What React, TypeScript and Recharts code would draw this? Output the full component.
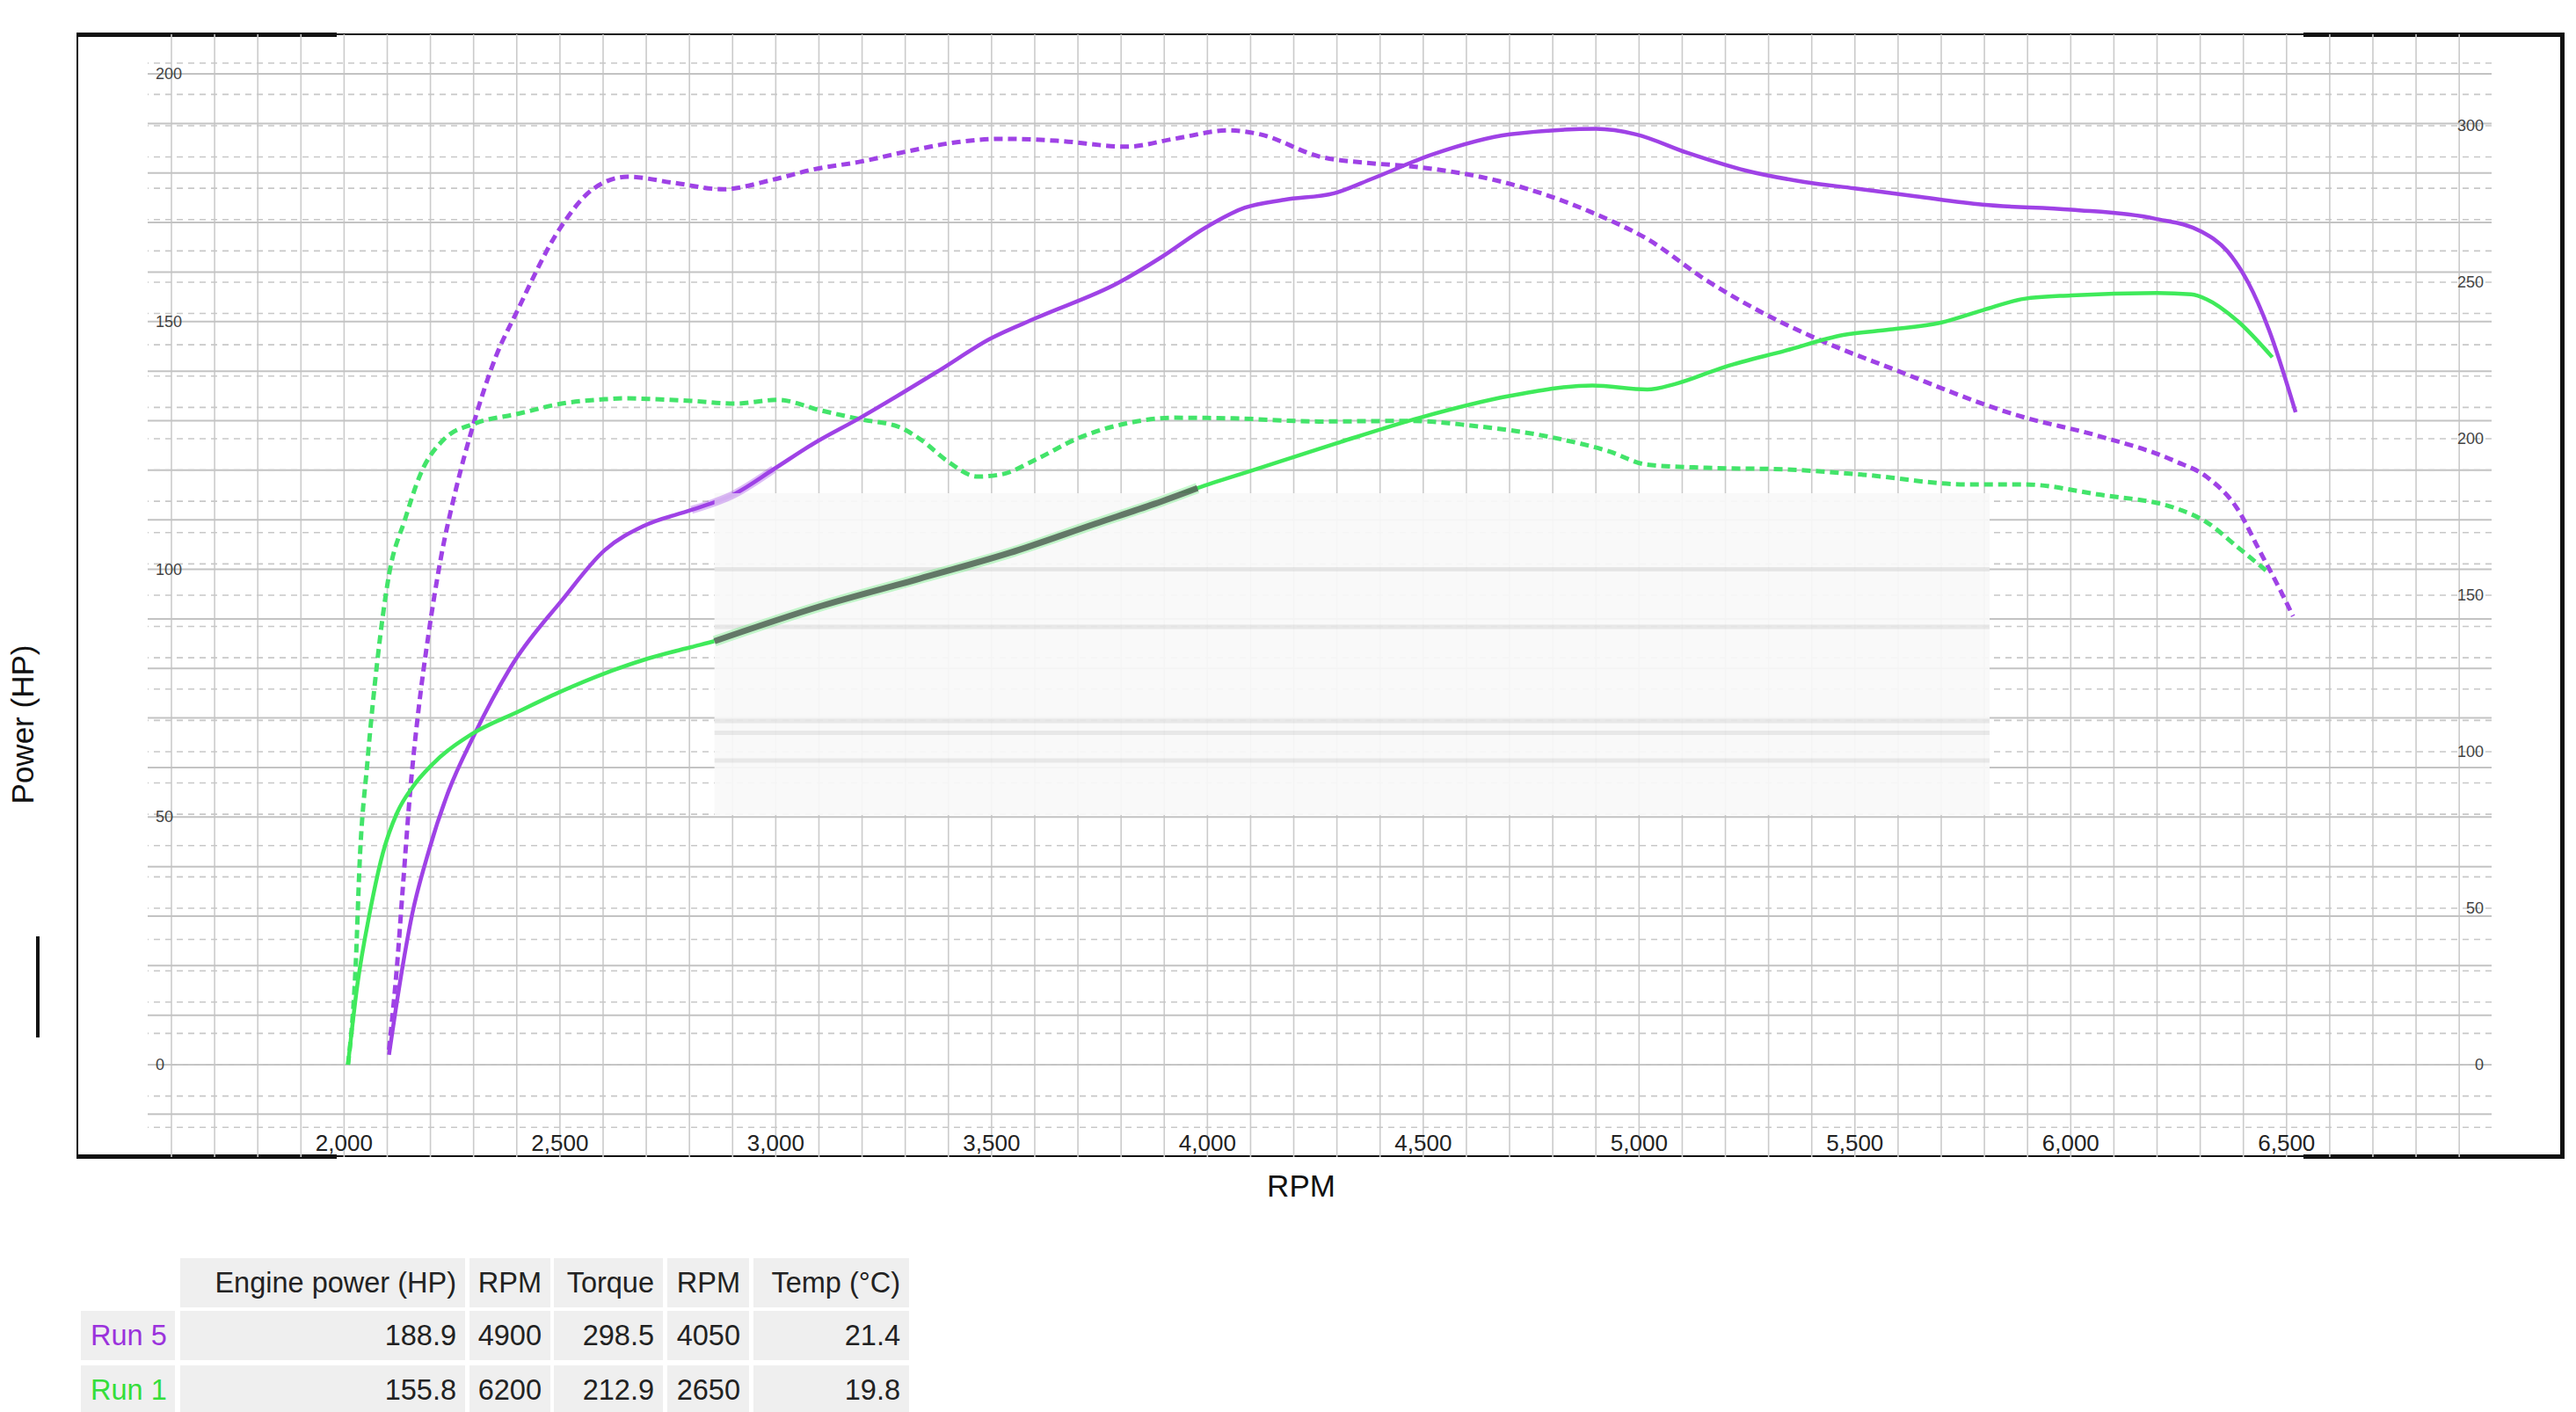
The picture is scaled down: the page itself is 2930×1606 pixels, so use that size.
import React from "react";
import {
  Line,
  LineChart,
  ReferenceArea,
  ReferenceLine,
  XAxis,
  YAxis,
} from "recharts";

// Run 5 (purple) engine power, HP
const run5PowerRpm = [
  2104, 2127, 2158, 2195, 2241, 2302, 2395, 2504, 2604, 2695, 2805, 2904, 2995,
  3086, 3196, 3378, 3496, 3605, 3795, 3895, 3996, 4087, 4178, 4293, 4383, 4520,
  4701, 4900, 4993, 5111, 5247, 5383, 5499, 5640, 5796, 6001, 6194, 6302, 6363,
  6411, 6459, 6521,
];
const run5PowerHp = [
  2.0, 15.3, 30.5, 42.8, 55.0, 66.7, 81.5, 93.7, 103.9, 108.8, 112.0, 115.2,
  120.2, 125.3, 130.6, 140.1, 146.5, 150.8, 157.9, 163.1, 169.0, 173.0, 174.6,
  175.9, 178.9, 183.7, 187.8, 188.9, 187.8, 184.1, 180.5, 178.2, 176.9, 175.3,
  173.6, 172.6, 170.8, 168.2, 164.2, 157.9, 148.4, 131.7,
];

// Run 1 (green) engine power, HP
const run1PowerRpm = [
  2009, 2031, 2059, 2090, 2123, 2159, 2204, 2295, 2404, 2504, 2604, 2704, 2804,
  2858, 3105, 3332, 3541, 3740, 3877, 3977, 4105, 4301, 4492, 4701, 4892, 5019,
  5083, 5200, 5337, 5473, 5581, 5699, 5796, 5892, 6001, 6200, 6279, 6315, 6388,
  6467,
];
const run1PowerHp = [
  0, 16.3, 30.5, 42.8, 50.9, 56.1, 60.6, 66.7, 71.3, 75.4, 79.0, 82.0, 84.3,
  85.5, 92.6, 98.1, 103.3, 109.2, 113.2, 116.4, 120.0, 125.5, 130.6, 135.0,
  137.1, 136.3, 137.4, 140.9, 144.1, 147.3, 148.4, 149.8, 152.3, 154.6, 155.3,
  155.8, 155.5, 154.5, 150.0, 142.8,
];

// Run 5 torque, Nm
const run5TorqueRpm = [
  2104, 2123, 2136, 2154, 2172, 2195, 2223, 2259, 2300, 2350, 2400, 2501, 2579,
  2657, 2761, 2878, 2995, 3086, 3196, 3305, 3423, 3523, 3650, 3813, 3923, 4050,
  4123, 4258, 4380, 4472, 4701, 4892, 5019, 5156, 5292, 5429, 5580, 5880, 6061,
  6242, 6315, 6388, 6436, 6484, 6515,
];
const run5TorqueNm = [
  4.8, 32.3, 56.5, 88.8, 112.9, 137.0, 161.0, 183.8, 204.8, 225.7, 240.5, 267.4,
  280.0, 283.7, 281.8, 279.7, 282.8, 286.0, 288.5, 291.8, 294.8, 295.8, 295.2,
  293.3, 295.8, 298.5, 297.2, 290.2, 288.0, 287.0, 281.4, 272.2, 263.8, 250.6,
  239.8, 230.9, 222.7, 207.3, 201.0, 192.8, 187.8, 177.2, 164.6, 152.0, 143.3,
];

// Run 1 torque, Nm
const run1TorqueRpm = [
  2009, 2027, 2036, 2054, 2077, 2104, 2141, 2177, 2232, 2302, 2404, 2504, 2604,
  2650, 2704, 2804, 2904, 3004, 3105, 3196, 3286, 3341, 3396, 3468, 3523, 3605,
  3696, 3813, 3923, 4059, 4258, 4473, 4610, 4792, 4929, 5019, 5156, 5337, 5518,
  5759, 5892, 6062, 6243, 6315, 6388, 6455,
];
const run1TorqueNm = [
  0, 32.3, 64.5, 96.7, 129.0, 156.5, 174.2, 188.7, 199.9, 204.8, 208.0, 211.2,
  212.6, 212.9, 212.7, 212.1, 211.2, 212.4, 209.0, 206.2, 203.7, 199.2, 193.0,
  187.9, 188.6, 193.5, 199.9, 204.9, 206.7, 206.5, 205.5, 205.7, 204.2, 200.6,
  196.0, 191.7, 190.7, 190.2, 188.5, 185.4, 185.4, 182.2, 177.8, 173.3, 165.2,
  157.6,
];

const rpmTicks = [2000, 2500, 3000, 3500, 4000, 4500, 5000, 5500, 6000, 6500];
const hpTicks = [0, 50, 100, 150, 200];
const nmTicks = [0, 50, 100, 150, 200, 250, 300];

// summary table
const tableHeaders = ["Engine power (HP)", "RPM", "Torque", "RPM", "Temp (°C)"];
const runNames = ["Run 5", "Run 1"];
const runRows = [
  ["188.9", "4900", "298.5", "4050", "21.4"],
  ["155.8", "6200", "212.9", "2650", "19.8"],
];

const range = (from: number, to: number, step: number) => {
  const out: number[] = [];
  for (let v = from; v <= to; v += step) out.push(v);
  return out;
};
const rpmGrid = range(1600, 6900, 100);
const hpGrid = range(-10, 200, 10);
const nmGrid = range(-20, 320, 10);

const PURPLE = "#9f42e6";
const GREEN = "#3fea5a";
const GREEN_DASH = "#43e46a";
const FONT = "'Liberation Sans', Arial, sans-serif";

const rows = (xs: number[], ys: number[]) =>
  xs.map((rpm, i) => ({ rpm, v: ys[i] }));

const run5Power = rows(run5PowerRpm, run5PowerHp);
const run1Power = rows(run1PowerRpm, run1PowerHp);
const run5Torque = rows(run5TorqueRpm, run5TorqueNm);
const run1Torque = rows(run1TorqueRpm, run1TorqueNm);

// the washed-out patch in the middle of the picture
const PATCH = { x1: 2858, x2: 5812, y1: 50.4, y2: 115.35 };
const patchGreen = run1Power.filter((p) => p.rpm >= 2858 && p.rpm <= 3977);
const patchPurple = run5Power.filter((p) => p.rpm >= 2805 && p.rpm <= 2995);
const patchStreaks = [100, 88.4, 69.4, 67, 61.4];

function HpTick(props: any) {
  const { y, payload } = props;
  return (
    <text x={177} y={y} dominantBaseline="central" fontSize={18} fill="#444" fontFamily={FONT}>
      {payload.value}
    </text>
  );
}

function NmTick(props: any) {
  const { y, payload } = props;
  return (
    <text x={2825} y={y} dominantBaseline="central" textAnchor="end" fontSize={18} fill="#444" fontFamily={FONT}>
      {payload.value}
    </text>
  );
}

function RpmTick(props: any) {
  const { x, payload } = props;
  return (
    <text x={x} y={1300} dominantBaseline="central" textAnchor="middle" fontSize={26} fill="#222" fontFamily={FONT}>
      {payload.value.toLocaleString("en-US")}
    </text>
  );
}

const cell: React.CSSProperties = {
  position: "absolute",
  background: "#efefef",
  display: "flex",
  alignItems: "center",
  justifyContent: "flex-end",
  padding: "0 10px",
  boxSizing: "border-box",
  fontSize: 32.5,
  color: "#222",
  whiteSpace: "nowrap",
};
const colLeft = [205, 534, 630, 759, 857];
const colWidth = [324, 92, 124, 93, 177];
const rowTop = [1431, 1491, 1553];
const rowHeight = 56;

export default function App() {
  return (
    <div style={{ position: "relative", width: 2930, height: 1606, background: "#fff", fontFamily: FONT, overflow: "hidden" }}>
      <style>{"body{margin:0}"}</style>

      <div style={{ position: "absolute", left: 87, top: 38, width: 2828, height: 1278, border: "2px solid #111", boxSizing: "border-box" }} />
      <div style={{ position: "absolute", left: 87, top: 37, width: 296, height: 5, background: "#111" }} />
      <div style={{ position: "absolute", left: 2620, top: 37, width: 297, height: 5, background: "#111" }} />
      <div style={{ position: "absolute", left: 87, top: 1313, width: 296, height: 5, background: "#111" }} />
      <div style={{ position: "absolute", left: 2620, top: 1313, width: 297, height: 5, background: "#111" }} />
      <div style={{ position: "absolute", left: 2912, top: 37, width: 5, height: 1281, background: "#111" }} />
      <div style={{ position: "absolute", left: 41, top: 1065, width: 4, height: 115, background: "#111" }} />

      <div style={{ position: "absolute", left: 0, top: 0 }}>
        <LineChart width={2930} height={1400} margin={{ top: 39, right: 96, bottom: 84, left: 168 }}>
          <XAxis
            type="number"
            dataKey="rpm"
            domain={[1545, 6975]}
            allowDataOverflow
            ticks={rpmTicks}
            tick={<RpmTick />}
            axisLine={false}
            tickLine={false}
            mirror
          />
          <YAxis
            yAxisId="hp"
            type="number"
            domain={[-18.63, 208]}
            allowDataOverflow
            ticks={hpTicks}
            tick={<HpTick />}
            axisLine={false}
            tickLine={false}
            mirror
          />
          <YAxis
            yAxisId="nm"
            orientation="right"
            type="number"
            domain={[-29.5, 329.2]}
            allowDataOverflow
            ticks={nmTicks}
            tick={<NmTick />}
            axisLine={false}
            tickLine={false}
            mirror
          />

          {rpmGrid.map((r) => (
            <ReferenceLine key={"v" + r} x={r} yAxisId="hp" stroke="#cbcbcb" strokeWidth={1.6} zIndex={-50} />
          ))}
          {hpGrid.map((v) => (
            <ReferenceLine key={"h" + v} y={v} yAxisId="hp" stroke="#c3c3c3" strokeWidth={2} zIndex={-50} />
          ))}
          {nmGrid.map((v) => (
            <ReferenceLine key={"n" + v} y={v} yAxisId="nm" stroke="#c8c8c8" strokeWidth={1.6} strokeDasharray="7 6" zIndex={-50} />
          ))}

          <Line data={run5Torque} dataKey="v" yAxisId="nm" type="monotone" stroke={PURPLE} strokeWidth={5} strokeDasharray="10 6" dot={false} isAnimationActive={false} />
          <Line data={run1Torque} dataKey="v" yAxisId="nm" type="monotone" stroke={GREEN_DASH} strokeWidth={5} strokeDasharray="10 6" dot={false} isAnimationActive={false} />
          <Line data={run5Power} dataKey="v" yAxisId="hp" type="monotone" stroke={PURPLE} strokeWidth={4.5} dot={false} isAnimationActive={false} />
          <Line data={run1Power} dataKey="v" yAxisId="hp" type="monotone" stroke={GREEN} strokeWidth={4.5} dot={false} isAnimationActive={false} />

          <ReferenceArea
            x1={PATCH.x1}
            x2={PATCH.x2}
            y1={PATCH.y1}
            y2={PATCH.y2}
            yAxisId="hp"
            fill="#f8f8f8"
            fillOpacity={0.92}
            stroke="none"
            zIndex={450}
          />
          {patchStreaks.map((v) => (
            <ReferenceLine
              key={"s" + v}
              yAxisId="hp"
              segment={[{ x: PATCH.x1, y: v }, { x: PATCH.x2, y: v }]}
              stroke="#8d8d8d"
              strokeOpacity={0.16}
              strokeWidth={5}
              zIndex={455}
            />
          ))}
          <Line data={patchGreen} dataKey="v" yAxisId="hp" type="monotone" stroke={GREEN} strokeOpacity={0.3} strokeWidth={12} dot={false} isAnimationActive={false} zIndex={460} />
          <Line data={patchGreen} dataKey="v" yAxisId="hp" type="monotone" stroke="#56665a" strokeOpacity={0.88} strokeWidth={7} dot={false} isAnimationActive={false} zIndex={465} />
          <Line data={patchPurple} dataKey="v" yAxisId="hp" type="monotone" stroke={PURPLE} strokeOpacity={0.35} strokeWidth={9} dot={false} isAnimationActive={false} zIndex={465} />
        </LineChart>
      </div>

      <div style={{ position: "absolute", left: 26, top: 824, transform: "translate(-50%, -50%) rotate(-90deg)", fontSize: 35, color: "#111", whiteSpace: "nowrap" }}>
        Power (HP)
      </div>
      <div style={{ position: "absolute", left: 1480, top: 1349, transform: "translate(-50%, -50%)", fontSize: 35, color: "#111" }}>
        RPM
      </div>

      {tableHeaders.map((h, c) => (
        <div key={"th" + c} style={{ ...cell, left: colLeft[c], top: rowTop[0], width: colWidth[c], height: rowHeight }}>
          {h}
        </div>
      ))}
      {runNames.map((name, r) => (
        <React.Fragment key={name}>
          <div
            style={{
              ...cell,
              left: 92,
              top: rowTop[r + 1],
              width: 107,
              height: rowHeight,
              justifyContent: "flex-start",
              padding: "0 11px",
              color: r === 0 ? "#9b32dc" : "#35de3a",
            }}
          >
            {name}
          </div>
          {runRows[r].map((val, c) => (
            <div key={c} style={{ ...cell, left: colLeft[c], top: rowTop[r + 1], width: colWidth[c], height: rowHeight }}>
              {val}
            </div>
          ))}
        </React.Fragment>
      ))}
    </div>
  );
}
